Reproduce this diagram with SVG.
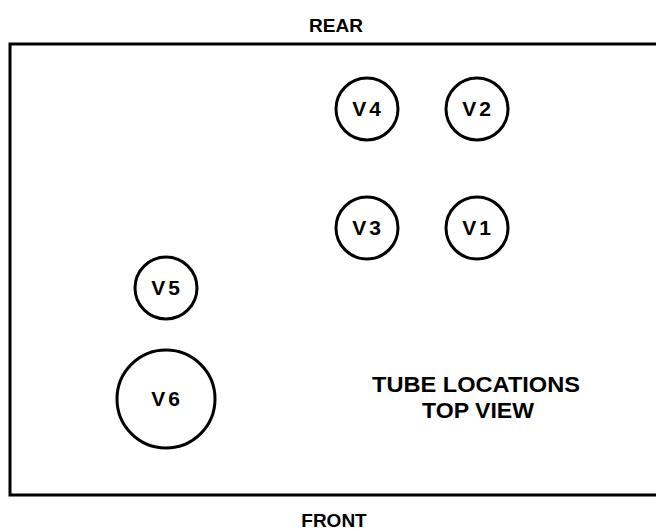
<svg xmlns="http://www.w3.org/2000/svg" width="656" height="531" viewBox="0 0 656 531">
<style>
.t{fill:none;stroke:#000;stroke-width:3}
.l{font-family:"Liberation Sans",Arial,sans-serif;font-weight:bold;font-size:21px;text-anchor:middle;letter-spacing:3px}
.h{font-family:"Liberation Sans",Arial,sans-serif;font-weight:bold;text-anchor:middle}
</style>
<rect width="656" height="531" fill="#fff"/>
<rect x="10" y="44" width="660" height="451" fill="none" stroke="#000" stroke-width="3"/>
<text class="h" x="336" y="32" font-size="19">REAR</text>
<text class="h" x="334" y="527" font-size="19">FRONT</text>
<g id="V4"><ellipse class="t" cx="367" cy="109" rx="31" ry="31"/><text class="l" x="368" y="116">V4</text></g>
<g id="V2"><ellipse class="t" cx="477" cy="109" rx="31" ry="31"/><text class="l" x="478" y="116">V2</text></g>
<g id="V3"><ellipse class="t" cx="367" cy="228" rx="31" ry="31"/><text class="l" x="368" y="235">V3</text></g>
<g id="V1"><ellipse class="t" cx="477" cy="228" rx="31" ry="31"/><text class="l" x="478" y="235">V1</text></g>
<g id="V5"><ellipse class="t" cx="166" cy="288" rx="31" ry="31"/><text class="l" x="167" y="295">V5</text></g>
<g id="V6"><ellipse class="t" cx="166" cy="399" rx="49" ry="49"/><text class="l" x="167" y="406">V6</text></g>
<text class="h" x="476" y="392" font-size="22" textLength="208" lengthAdjust="spacingAndGlyphs">TUBE LOCATIONS</text>
<text class="h" x="478" y="418" font-size="22" textLength="112" lengthAdjust="spacingAndGlyphs">TOP VIEW</text>
<g id="connectors"/>
</svg>
